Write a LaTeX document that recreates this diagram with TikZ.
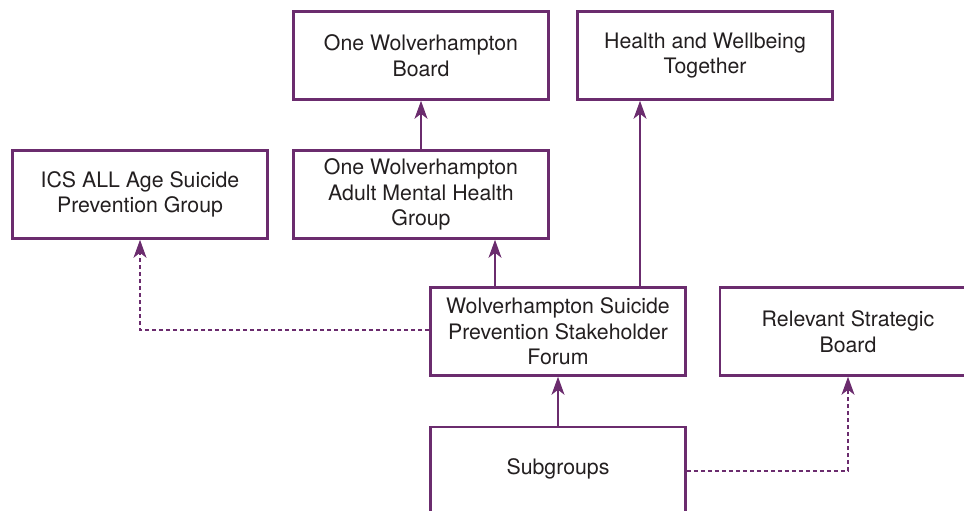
\documentclass[tikz,border=0pt]{standalone}
\usepackage{fontspec}
\setmainfont{TeX Gyre Heros}
\usetikzlibrary{arrows.meta}
\definecolor{plum}{HTML}{6B2C6E}
\definecolor{txt}{HTML}{231F20}
\begin{document}
\begin{tikzpicture}[x=1pt,y=-1pt,
  box/.style={draw=plum,line width=2.6pt,fill=white,minimum width=255pt,minimum height=88pt,
    align=center,inner sep=0pt,font=\fontsize{21.3pt}{25.5pt}\selectfont,text=txt},
  link/.style={plum,line width=1.3pt,-{Stealth[length=18pt,width=13pt,inset=5pt]}},
  dlink/.style={link,dash pattern=on 4pt off 3pt}]
\useasboundingbox (0,0) rectangle (964,511);
\clip (0,0) rectangle (964,511);
\node[box] (owb) at (421,55.5) {One Wolverhampton\\Board};
\node[box] (hwt) at (705,55.5) {Health and Wellbeing\\Together};
\node[box] (ics) at (140,194.5) {ICS ALL Age Suicide\\Prevention Group};
\node[box] (amh) at (421,194.5) {One Wolverhampton\\Adult Mental Health\\Group};
\node[box] (spf) at (558,331.5) {Wolverhampton Suicide\\Prevention Stakeholder\\Forum};
\node[box,minimum width=256pt] (rsb) at (848,331.5) {Relevant Strategic\\Board};
\node[box,minimum height=130pt] (sub) at (558,492) {};
\node[font=\fontsize{21.3pt}{25.5pt}\selectfont,text=txt] (subt) at (558,469) {Subgroups};
\draw[link] (amh.north) -- (owb.south);
\draw[link] (spf.north -| 495,0) -- (amh.south -| 495,0);
\draw[link] (spf.north -| 640,0) -- (hwt.south -| 640,0);
\draw[dlink] (spf.west |- 0,330) -| (ics.south);
\draw[link] (sub.north) -- (spf.south);
\draw[dlink] (sub.east |- 0,471) -| (rsb.south);
\end{tikzpicture}
\end{document}
